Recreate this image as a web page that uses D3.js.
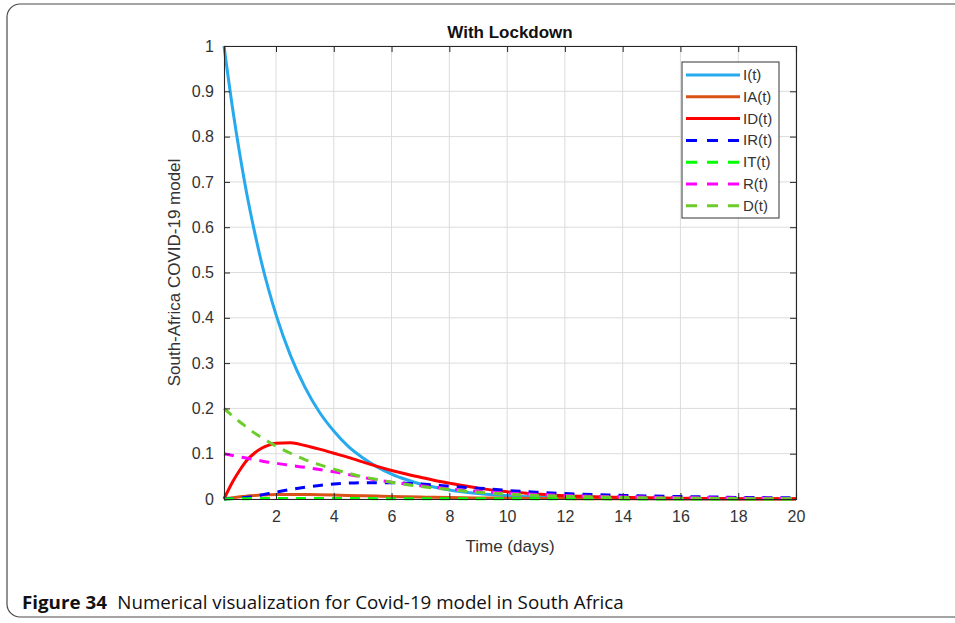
<!DOCTYPE html>
<html><head><meta charset="utf-8">
<script src="https://cdn.jsdelivr.net/npm/d3@7"></script>
<style>body{margin:0;background:#fff}svg{display:block}</style>
</head><body>
<svg id="chart" width="955" height="623"></svg>
<script>
const times = [0.2,0.5,0.75,1,1.25,1.5,1.75,2,2.5,3,3.5,4,4.5,5,5.5,6,6.5,7,7.5,8,9,10,11,12,13,14,15,16,17,18,19,20];
const I_t  = [1.000,0.861,0.760,0.670,0.592,0.522,0.461,0.407,0.317,0.247,0.192,0.150,0.116,0.091,0.071,0.055,0.043,0.033,0.026,0.020,0.012,0.0075,0.0045,0.0027,0.0017,0.001,0.0006,0.0004,0.0002,0.0001,0.0001,0.0001];
const IA_t = [0,0.003,0.005,0.0065,0.0078,0.0088,0.0095,0.0099,0.0102,0.0100,0.0095,0.0088,0.008,0.0072,0.0064,0.0056,0.0049,0.0043,0.0037,0.0032,0.0024,0.0017,0.0012,0.0009,0.0006,0.0004,0.0003,0.0002,0.00015,0.0001,0.0001,0.0001];
const ID_t = [0,0.038,0.064,0.086,0.101,0.112,0.119,0.123,0.124,0.118,0.110,0.101,0.092,0.082,0.072,0.063,0.055,0.048,0.041,0.035,0.024,0.016,0.011,0.007,0.005,0.0035,0.0025,0.0017,0.0012,0.0008,0.0006,0.0004];
const IR_t = [0,0.001,0.002,0.004,0.006,0.009,0.012,0.015,0.021,0.026,0.030,0.033,0.035,0.036,0.036,0.036,0.035,0.033,0.031,0.028,0.024,0.019,0.015,0.012,0.010,0.008,0.0065,0.0055,0.0045,0.0035,0.003,0.0025];
const IT_t = [0,0.0004,0.0006,0.0008,0.0009,0.001,0.001,0.001,0.001,0.001,0.001,0.001,0.0009,0.0009,0.0008,0.0008,0.0007,0.0007,0.0006,0.0006,0.0005,0.0004,0.0004,0.0003,0.0003,0.0002,0.0002,0.0002,0.0002,0.0001,0.0001,0.0001];
const R_t  = [0.1,0.096,0.093,0.09,0.087,0.084,0.081,0.079,0.074,0.07,0.065,0.06,0.054,0.048,0.042,0.037,0.033,0.029,0.026,0.022,0.017,0.013,0.010,0.008,0.006,0.005,0.004,0.003,0.0025,0.002,0.0015,0.001];
const D_t  = [0.2,0.183,0.170,0.158,0.146,0.136,0.126,0.117,0.101,0.087,0.076,0.066,0.057,0.049,0.043,0.037,0.032,0.028,0.024,0.021,0.015,0.011,0.008,0.006,0.0045,0.0033,0.0024,0.0018,0.0013,0.001,0.0007,0.0005];
const seriesNames = ["I(t)","IA(t)","ID(t)","IR(t)","IT(t)","R(t)","D(t)"];
const seriesValues = [I_t,IA_t,ID_t,IR_t,IT_t,R_t,D_t];
const seriesColors = ["#27a9ee","#d95319","#ff0000","#0000ff","#00ff00","#ff00ff","#6ccd2a"];
const seriesDashed = [false,false,false,true,true,true,true];
const xTicks = [2,4,6,8,10,12,14,16,18,20];
const yTicks = [0,0.1,0.2,0.3,0.4,0.5,0.6,0.7,0.8,0.9,1];
const titleText = "With Lockdown";
const xLabel = "Time (days)";
const yLabel = "South-Africa COVID-19 model";
const captionBold = "Figure 34";
const captionText = "Numerical visualization for Covid-19 model in South Africa";

const svg = d3.select("#chart");
const L = 224, R = 796, T = 46, B = 499;
const x = d3.scaleLinear().domain([0.2,20]).range([L,R]);
const y = d3.scaleLinear().domain([0,1]).range([B,T]);
const font = "'Liberation Sans', Arial, sans-serif";
const axisColor = "#262626";

// outer frame
svg.append("rect").attr("x",7).attr("y",4).attr("width",975).attr("height",613)
  .attr("rx",13).attr("fill","none").attr("stroke","#4a4a4a").attr("stroke-width",1.2);

svg.append("rect").attr("x",L).attr("y",T).attr("width",R-L).attr("height",B-T).attr("fill","#fff");

// grid
const grid = svg.append("g");
grid.selectAll(".gx").data(xTicks).join("line")
  .attr("x1",d=>x(d)).attr("x2",d=>x(d)).attr("y1",T).attr("y2",B)
  .attr("stroke","#dcdcdc").attr("stroke-width",1);
grid.selectAll(".gy").data(yTicks).join("line")
  .attr("x1",L).attr("x2",R).attr("y1",d=>y(d)).attr("y2",d=>y(d))
  .attr("stroke","#dcdcdc").attr("stroke-width",1);

svg.append("clipPath").attr("id","clip").append("rect").attr("x",L-2).attr("y",T-2).attr("width",R-L+4).attr("height",B-T+4);

const line = d3.line().x((d,i)=>x(times[i])).y(d=>y(d)).curve(d3.curveMonotoneX);
const lines = svg.append("g").attr("clip-path","url(#clip)");
seriesValues.forEach((vals,k)=>{
  lines.append("path").attr("d",line(vals)).attr("fill","none")
    .attr("stroke",seriesColors[k]).attr("stroke-width",3)
    .attr("stroke-dasharray",seriesDashed[k]?"10,8":null);
});

// axes
const axB = svg.append("g").attr("transform",`translate(0,${B})`)
  .call(d3.axisBottom(x).tickValues(xTicks).tickSize(-6).tickPadding(12).tickFormat(d3.format("d")));
const axT = svg.append("g").attr("transform",`translate(0,${T})`)
  .call(d3.axisTop(x).tickValues(xTicks).tickSize(-6).tickFormat(""));
const axL = svg.append("g").attr("transform",`translate(${L},0)`)
  .call(d3.axisLeft(y).tickValues(yTicks).tickSize(-6).tickPadding(10).tickFormat(d=>d===0?"0":d===1?"1":d3.format(".1f")(d)));
const axR = svg.append("g").attr("transform",`translate(${R},0)`)
  .call(d3.axisRight(y).tickValues(yTicks).tickSize(-6).tickFormat(""));
[axB,axT,axL,axR].forEach(a=>{
  a.selectAll("path").attr("stroke",axisColor).attr("stroke-width",1.1);
  a.selectAll("line").attr("stroke",axisColor);
  a.selectAll("text").attr("fill","#333").style("font-family",font).style("font-size","16px");
});

// title & labels
svg.append("text").attr("x",(L+R)/2).attr("y",38).attr("text-anchor","middle")
  .style("font-family",font).style("font-size","17px").style("font-weight","bold").attr("fill","#111").text(titleText);
svg.append("text").attr("x",(L+R)/2).attr("y",552).attr("text-anchor","middle")
  .style("font-family",font).style("font-size","17px").attr("fill","#333").text(xLabel);
svg.append("text").attr("transform",`translate(180,${(T+B)/2}) rotate(-90)`).attr("text-anchor","middle")
  .style("font-family",font).style("font-size","17px").attr("fill","#333").text(yLabel);

// legend
const lg = svg.append("g");
lg.append("rect").attr("x",682).attr("y",62).attr("width",97).attr("height",156)
  .attr("fill","#fff").attr("stroke","#333").attr("stroke-width",1);
seriesNames.forEach((n,k)=>{
  const yy = 75 + k*21.8;
  lg.append("line").attr("x1",686).attr("x2",740).attr("y1",yy).attr("y2",yy)
    .attr("stroke",seriesColors[k]).attr("stroke-width",3)
    .attr("stroke-dasharray",seriesDashed[k]?"11,10":null);
  lg.append("text").attr("x",743).attr("y",yy+5).style("font-family",font).style("font-size","15px")
    .attr("fill","#333").text(n);
});

// caption
const cap = svg.append("text").attr("x",22).attr("y",609).style("font-family","'Open Sans', sans-serif").style("font-size","18px").attr("fill","#111");
cap.append("tspan").style("font-weight","bold").text(captionBold);
cap.append("tspan").attr("dx",10).text(captionText);
const w = cap.node().getComputedTextLength();
const target = 592;
cap.attr("transform",`translate(22,0) scale(${target/w},1) translate(-22,0)`);
</script>
</body></html>
